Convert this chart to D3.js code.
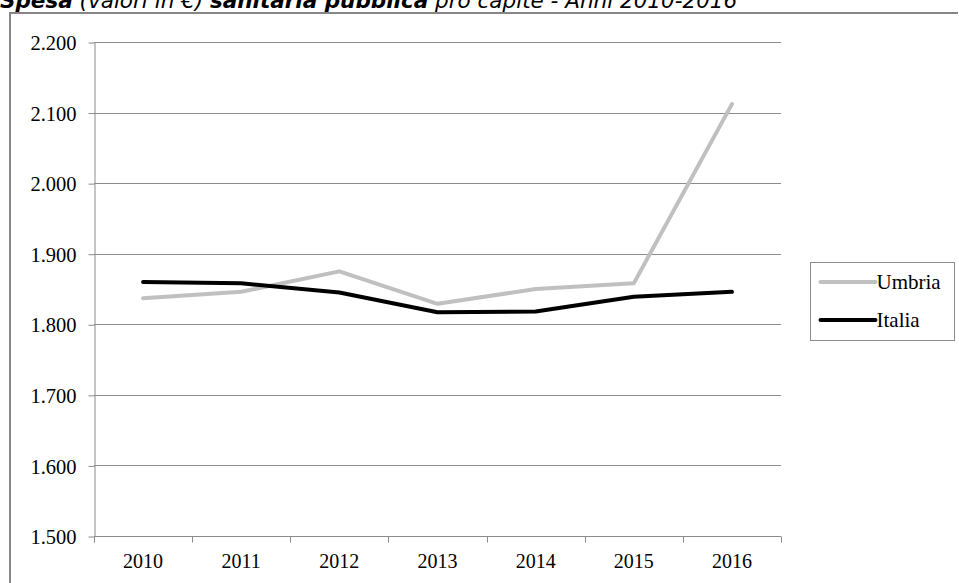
<!DOCTYPE html>
<html>
<head>
<meta charset="utf-8">
<script src="https://cdn.jsdelivr.net/npm/d3@7"></script>
<style>
  body { margin: 0; background: #fff; }
  svg { display: block; }
</style>
</head>
<body>
<svg id="chart"></svg>
<script>
// Data
const years = ["2010", "2011", "2012", "2013", "2014", "2015", "2016"];
const umbria = [1837, 1846, 1875, 1829, 1850, 1858, 2112];
const italia = [1860, 1858, 1845, 1817, 1818, 1839, 1846];
const yTicks = [1500, 1600, 1700, 1800, 1900, 2000, 2100, 2200];
const seriesNames = ["Umbria", "Italia"];

const width = 959, height = 583;
const margin = { top: 42, right: 178, bottom: 47, left: 94 };
const serif = "Liberation Serif, Times New Roman, serif";

const svg = d3.select("#chart")
    .attr("width", width)
    .attr("height", height);

// Title (partly cut off at the top, like the source)
const title = svg.append("text")
    .attr("x", 0)
    .attr("y", 8)
    .style("font-family", "DejaVu Sans, Verdana, sans-serif")
    .style("font-size", "21.5px")
    .style("font-style", "italic");
title.append("tspan").style("font-weight", "bold").text("Spesa");
title.append("tspan").text(" (valori in €) ");
title.append("tspan").style("font-weight", "bold").text("sanitaria pubblica");
title.append("tspan").text(" pro capite - Anni 2010-2016");

// Outer frame (top and left edges only visible)
svg.append("path")
    .attr("d", "M10,583 V13 H958")
    .attr("fill", "none")
    .attr("stroke", "#868686")
    .attr("stroke-width", 2);

// Scales
const x = d3.scaleBand()
    .domain(years)
    .range([margin.left, width - margin.right]);

const y = d3.scaleLinear()
    .domain([1500, 2200])
    .range([height - margin.bottom, margin.top]);

// Gridlines
svg.append("g")
    .selectAll("line")
    .data(yTicks)
    .join("line")
    .attr("x1", margin.left)
    .attr("x2", width - margin.right)
    .attr("y1", d => Math.round(y(d)) + 0.5)
    .attr("y2", d => Math.round(y(d)) + 0.5)
    .attr("stroke", "#8c8c8c")
    .attr("stroke-width", 1);

// Y axis
const fmt = d => d3.format(",")(d).replace(",", ".");
const yAxis = svg.append("g")
    .attr("transform", `translate(${margin.left + 0.5}, 0.5)`)
    .call(d3.axisLeft(y).tickValues(yTicks).tickFormat(fmt).tickSize(6).tickSizeOuter(0));
yAxis.select(".domain").attr("stroke", "#8c8c8c");
yAxis.selectAll(".tick line").attr("stroke", "#8c8c8c");
yAxis.selectAll("text")
    .attr("x", -18)
    .attr("dy", "0.35em")
    .style("font-family", serif)
    .style("font-size", "20.5px")
    .attr("fill", "#000");

// X axis, ticks between categories
const xAxis = svg.append("g")
    .attr("transform", `translate(0, ${Math.round(y(1500)) + 0.5})`);
xAxis.append("line")
    .attr("x1", margin.left)
    .attr("x2", width - margin.right)
    .attr("stroke", "#8c8c8c");
xAxis.selectAll(".sep")
    .data(years.concat(["end"]))
    .join("line")
    .attr("class", "sep")
    .attr("x1", (d, i) => Math.round(margin.left + i * x.step()) + 0.5)
    .attr("x2", (d, i) => Math.round(margin.left + i * x.step()) + 0.5)
    .attr("y1", 0)
    .attr("y2", 6)
    .attr("stroke", "#8c8c8c");
xAxis.selectAll(".lbl")
    .data(years)
    .join("text")
    .attr("class", "lbl")
    .attr("x", d => x(d) + x.bandwidth() / 2)
    .attr("y", 31)
    .attr("text-anchor", "middle")
    .style("font-family", serif)
    .style("font-size", "20px")
    .text(d => d);

// Lines
const line = d3.line()
    .x((d, i) => x(years[i]) + x.bandwidth() / 2)
    .y(d => y(d));

const series = [
    { name: seriesNames[0], values: umbria, color: "#c0c0c0" },
    { name: seriesNames[1], values: italia, color: "#000000" }
];

series.forEach(s => {
    svg.append("path")
       .datum(s.values)
       .attr("d", line)
       .attr("fill", "none")
       .attr("stroke", s.color)
       .attr("stroke-width", 4)
       .attr("stroke-linejoin", "round")
       .attr("stroke-linecap", "round");
});

// Legend
const legend = svg.append("g").attr("transform", "translate(810.5, 262.5)");
legend.append("rect")
    .attr("width", 144)
    .attr("height", 78)
    .attr("fill", "#fff")
    .attr("stroke", "#8c8c8c");
series.forEach((s, i) => {
    const ly = 19.5 + i * 38;
    legend.append("line")
        .attr("x1", 10)
        .attr("x2", 65)
        .attr("y1", ly)
        .attr("y2", ly)
        .attr("stroke", s.color)
        .attr("stroke-width", 4)
        .attr("stroke-linecap", "round");
    legend.append("text")
        .attr("x", 66)
        .attr("y", ly + 6.5)
        .style("font-family", serif)
        .style("font-size", "21px")
        .text(s.name);
});
</script>
</body>
</html>
